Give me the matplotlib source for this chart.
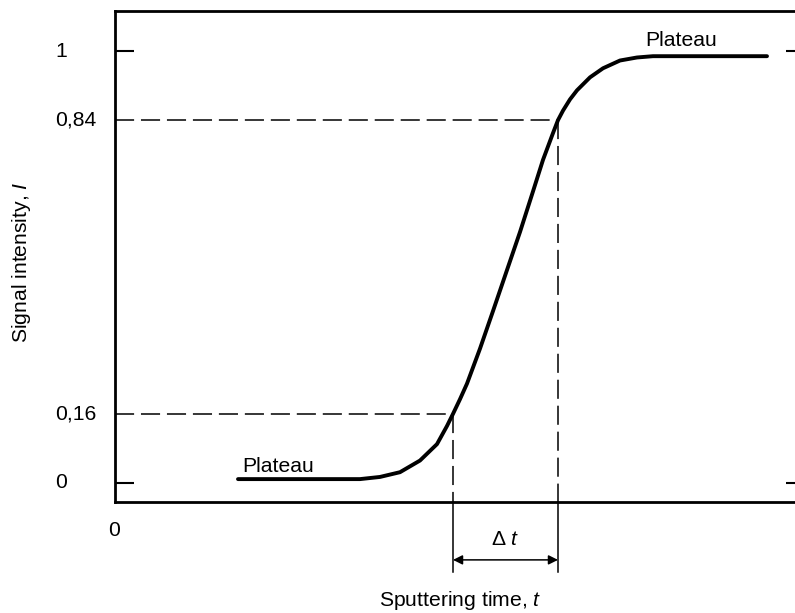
import matplotlib
matplotlib.use('Agg')
import matplotlib.pyplot as plt
from matplotlib.transforms import blended_transform_factory

plt.rcParams['font.family'] = ['Liberation Sans', 'DejaVu Sans']
plt.rcParams['mathtext.fontset'] = 'custom'
plt.rcParams['mathtext.rm'] = 'Liberation Sans'
plt.rcParams['mathtext.it'] = 'Liberation Sans:italic'

# signal curve (arbitrary time units)
time = [1.23, 2.25, 2.45, 2.65, 2.85, 3.05, 3.22, 3.32, 3.38, 3.45,
        3.52, 3.65, 3.78, 3.92, 4.05, 4.18, 4.28, 4.38, 4.43, 4.48,
        4.55, 4.62, 4.75, 4.88, 5.05, 5.22, 5.38, 6.52]
intensity = [0.009, 0.009, 0.009, 0.014, 0.025, 0.052, 0.09, 0.132, 0.16, 0.194,
             0.23, 0.311, 0.398, 0.493, 0.581, 0.675, 0.748, 0.81, 0.84, 0.862,
             0.888, 0.909, 0.939, 0.96, 0.978, 0.985, 0.988, 0.988]

levels = [0.16, 0.84]
level_times = [3.38, 4.43]
ytick_vals = [0, 0.16, 0.84, 1]
ytick_labels = ['0', '0,16', '0,84', '1']

fs = 15.2

fig = plt.figure(figsize=(7.95, 6.13), dpi=100)
ax = fig.add_axes([115/795, 1 - 502/613, 690/795, 491/613])
ax.set_xlim(0, 6.9)
ax.set_ylim(-0.044, 1.0926)

for s in ax.spines.values():
    s.set_linewidth(2)

ax.plot(time, intensity, color='k', lw=2.8, solid_capstyle='round',
        solid_joinstyle='round')

# dashed guides at 16 % and 84 %
ybot = ax.get_ylim()[0]
ext = -0.206
for lev, t in zip(levels, level_times):
    ax.plot([0, t], [lev, lev], color='k', lw=1.1, ls=(0, (12.5, 4.5)))
    ax.plot([t, t], [lev, ybot], color='k', lw=1.1, ls=(0, (12.5, 4.5)))
    ax.plot([t, t], [ybot, ext], color='k', lw=1.1, clip_on=False)

ax.annotate('', xy=(level_times[0], -0.178), xytext=(level_times[1], -0.178),
            arrowprops=dict(arrowstyle='<|-|>', color='k', lw=1.1,
                            mutation_scale=14, shrinkA=0, shrinkB=0),
            annotation_clip=False)
ax.text(sum(level_times) / 2, -0.143, 'Δ $t$', ha='center', va='baseline',
        fontsize=fs)

ax.text(1.27, 0.025, 'Plateau', fontsize=fs, va='baseline')
ax.text(5.30, 1.0116, 'Plateau', fontsize=fs, va='baseline')

# ticks only at 0 and 1, pointing inward on both sides
ax.set_yticks([0, 1])
ax.set_yticklabels([])
ax.tick_params(axis='y', direction='in', length=13.7, width=1.5,
               left=True, right=True)
ax.set_xticks([])

trans = blended_transform_factory(fig.transFigure, ax.transData)
for v, lab in zip(ytick_vals, ytick_labels):
    ax.text(55/795, v, lab, transform=trans, ha='left', va='center',
            fontsize=fs)

fig.text(114/795, 1 - 530/613, '0', ha='center', va='center', fontsize=fs)
fig.text(460/795, 1 - 600/613, 'Sputtering time, $t$', ha='center',
         va='center', fontsize=fs)
fig.text(22/795, 1 - 262/613, 'Signal intensity, $I$', ha='center',
         va='center', rotation=90, fontsize=fs)

fig.savefig('out.png', dpi=100)
